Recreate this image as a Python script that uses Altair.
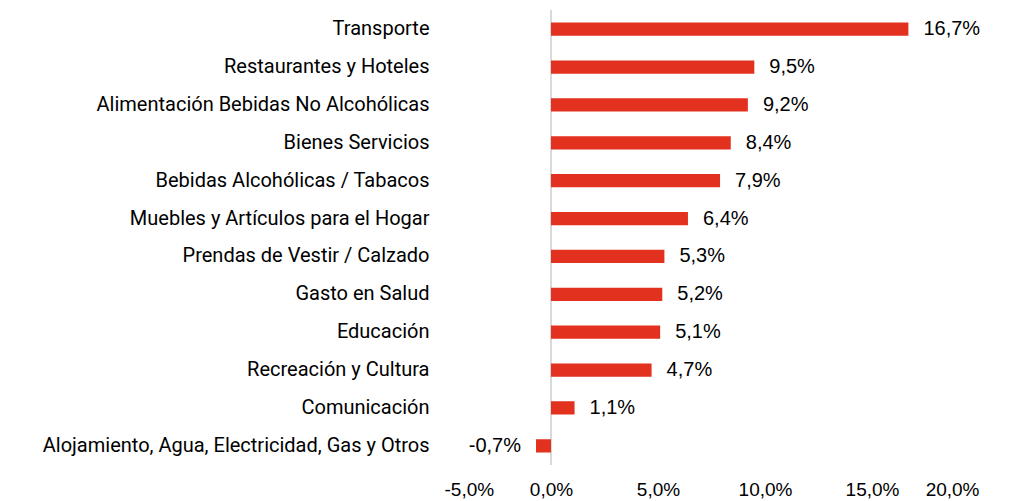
import altair as alt
import pandas as pd

categories = [
    "Transporte",
    "Restaurantes y Hoteles",
    "Alimentación Bebidas No Alcohólicas",
    "Bienes Servicios",
    "Bebidas Alcohólicas / Tabacos",
    "Muebles y Artículos para el Hogar",
    "Prendas de Vestir / Calzado",
    "Gasto en Salud",
    "Educación",
    "Recreación y Cultura",
    "Comunicación",
    "Alojamiento, Agua, Electricidad, Gas y Otros",
]
values = [16.7, 9.5, 9.2, 8.4, 7.9, 6.4, 5.3, 5.2, 5.1, 4.7, 1.1, -0.7]
x_ticks = [-5, 0, 5, 10, 15, 20]

df = pd.DataFrame({"cat": categories, "val": values})
df["label"] = df["val"].map(lambda v: f"{v:.1f}".replace(".", ",") + "%")

RED = "#e2311f"

x_enc = alt.X(
    "val:Q",
    scale=alt.Scale(domain=[-5, 20], nice=False, zero=False),
    axis=alt.Axis(
        values=x_ticks,
        title=None,
        grid=False,
        domain=False,
        ticks=False,
        labelPadding=15,
        labelFont="Liberation Sans",
        labelFontSize=19,
        labelColor="#000000",
        labelExpr="replace(replace(format(datum.value, '.1f'), '.', ','), '\u2212', '-') + '%'",
    ),
)
y_enc = alt.Y(
    "cat:N",
    sort=categories,
    scale=alt.Scale(paddingInner=0.65, paddingOuter=0.33),
    axis=alt.Axis(
        title=None,
        domain=False,
        ticks=False,
        grid=False,
        labelPadding=15,
        labelFont="Roboto",
        labelFontSize=20,
        labelColor="#000000",
        labelLimit=500,
    ),
)

base = alt.Chart(df)

bars = base.mark_bar(color=RED).encode(x=x_enc, y=y_enc)

zero = alt.Chart(pd.DataFrame({"z": [0]})).mark_rule(color="#d9d9d9", strokeWidth=2).encode(
    x=alt.X("z:Q")
)

pos_text = base.transform_filter("datum.val >= 0").mark_text(
    align="left", baseline="middle", dx=15, font="Liberation Sans", fontSize=20, color="#000000"
).encode(x="val:Q", y=alt.Y("cat:N", sort=categories), text="label:N")

neg_text = base.transform_filter("datum.val < 0").mark_text(
    align="right", baseline="middle", dx=-15, font="Liberation Sans", fontSize=20, color="#000000"
).encode(x="val:Q", y=alt.Y("cat:N", sort=categories), text="label:N")

chart = (
    alt.layer(zero, bars, pos_text, neg_text)
    .properties(
        width=535,
        height=455,
        autosize=alt.AutoSizeParams(type="none"),
        padding={"left": 436, "top": 2, "right": 20, "bottom": 36},
    )
    .configure(background="#ffffff", view=alt.ViewConfig(strokeWidth=0, stroke=None))
)

chart.save("out.html", embed_options={"renderer": "svg", "actions": False})
